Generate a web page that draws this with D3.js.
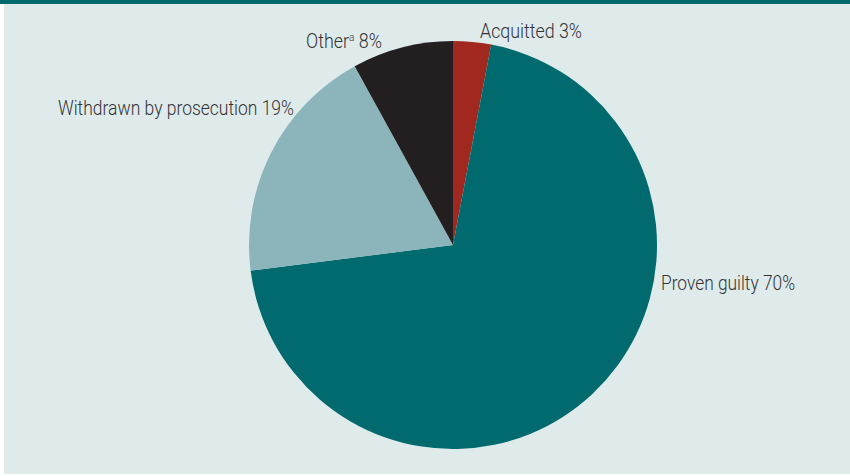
<!DOCTYPE html>
<html>
<head>
<meta charset="utf-8">
<script src="https://cdn.jsdelivr.net/npm/d3@7"></script>
<style>
  html, body { margin: 0; padding: 0; background: #ffffff; }
  svg { display: block; }
</style>
</head>
<body>
<svg id="chart" width="850" height="476"></svg>
<script>
// Data
const categories = ["Acquitted", "Proven guilty", "Withdrawn by prosecution", "Other"];
const values = [3, 70, 19, 8];
const superscripts = ["", "", "", "a"];
const colors = ["#a0281e", "#006a6e", "#8bb5ba", "#231f20"];

// Label layout (position of text start, anchored left-baseline)
const labelLayout = [
  { x: 480, y: 38, width: 102 },
  { x: 661, y: 290, width: 134 },
  { x: 58, y: 115, width: 236 },
  { x: 306, y: 48, width: 76 }
];

const W = 850, H = 476;
const svg = d3.select("#chart");

// background
svg.append("rect").attr("x", 4).attr("y", 0).attr("width", W - 4).attr("height", H - 2).attr("fill", "#dfeaeb");
svg.append("rect").attr("x", 0).attr("y", 0).attr("width", W).attr("height", 4).attr("fill", "#006a6e");

const cx = 453, cy = 245, r = 204;

const pie = d3.pie().sort(null).value(d => d.value);
const arc = d3.arc().innerRadius(0).outerRadius(r);

const data = categories.map((c, i) => ({ name: c, value: values[i], color: colors[i], sup: superscripts[i] }));

const g = svg.append("g").attr("transform", `translate(${cx},${cy})`);
g.selectAll("path")
  .data(pie(data))
  .join("path")
  .attr("d", arc)
  .attr("fill", d => d.data.color);

// labels
const font = "Roboto, 'Liberation Sans', sans-serif";
data.forEach((d, i) => {
  const L = labelLayout[i];
  const t = svg.append("text")
    .attr("x", L.x)
    .attr("y", L.y)
    .attr("font-family", font)
    .attr("font-weight", 300)
    .attr("font-size", 19.5)
    .attr("fill", "#333335")
    .attr("textLength", L.width)
    .attr("lengthAdjust", "spacingAndGlyphs");
  if (d.sup) {
    t.append("tspan").text(d.name);
    t.append("tspan").attr("font-size", 11).attr("dy", -7).text(d.sup);
    t.append("tspan").attr("dy", 7).text(" " + d.value + "%");
  } else {
    t.text(d.name + " " + d.value + "%");
  }
});
</script>
</body>
</html>
